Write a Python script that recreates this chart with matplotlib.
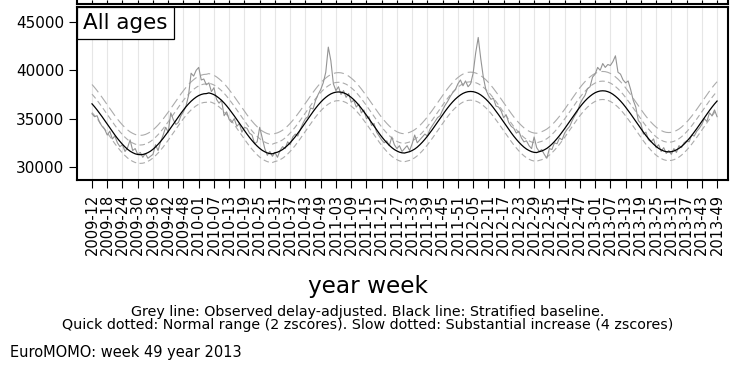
import matplotlib.pyplot as plt
import numpy as np

plt.rcParams["font.family"] = ["DejaVu Sans"]

W, H = 736, 379

# ── data: weekly values from 2009-12 to 2013-49 ──────────────────────────────
tick_labels = [
    "2009-12", "2009-18", "2009-24", "2009-30", "2009-36", "2009-42", "2009-48",
    "2010-01", "2010-07", "2010-13", "2010-19", "2010-25", "2010-31", "2010-37",
    "2010-43", "2010-49", "2011-03", "2011-09", "2011-15", "2011-21", "2011-27",
    "2011-33", "2011-39", "2011-45", "2011-51", "2012-05", "2012-11", "2012-17",
    "2012-23", "2012-29", "2012-35", "2012-41", "2012-47", "2013-01", "2013-07",
    "2013-13", "2013-19", "2013-25", "2013-31", "2013-37", "2013-43", "2013-49",
]

# stratified baseline (black line)
baseline = [
    36530, 36230, 35900, 35550, 35190, 34810, 34430, 34050, 33670, 33310,
    32960, 32640, 32340, 32070, 31830, 31630, 31480, 31360, 31290, 31270,
    31290, 31360, 31480, 31630, 31830, 32070, 32340, 32640, 32960, 33310,
    33670, 34050, 34430, 34810, 35190, 35550, 35900, 36230, 36530, 36800,
    37030, 37230, 37390, 37500, 37570, 37590,
    37660, 37590, 37480, 37320, 37120, 36890, 36620, 36320, 35990, 35640,
    35280, 34900, 34520, 34140, 33760, 33400, 33050, 32730, 32430, 32160,
    31920, 31720, 31570, 31450, 31380, 31360,
    31460, 31530, 31650, 31800, 32000, 32240, 32510, 32810, 33130, 33480,
    33840, 34220, 34600, 34980, 35360, 35720, 36070, 36400, 36700, 36970,
    37200, 37400, 37560, 37670, 37740, 37760,
    37740, 37670, 37560, 37400, 37200, 36970, 36700, 36400, 36070, 35720,
    35360, 34980, 34600, 34220, 33840, 33480, 33130, 32810, 32510, 32240,
    32000, 31800, 31650, 31530, 31460, 31440,
    31510, 31580, 31700, 31850, 32050, 32290, 32560, 32860, 33180, 33530,
    33890, 34270, 34650, 35030, 35410, 35770, 36120, 36450, 36750, 37020,
    37250, 37450, 37610, 37720, 37790, 37810,
    37790, 37720, 37610, 37450, 37250, 37020, 36750, 36450, 36120, 35770,
    35410, 35030, 34650, 34270, 33890, 33530, 33180, 32860, 32560, 32290,
    32050, 31850, 31700, 31580, 31510, 31490,
    31580, 31650, 31770, 31920, 32120, 32360, 32630, 32930, 33250, 33600,
    33960, 34340, 34720, 35100, 35480, 35840, 36190, 36520, 36820, 37090,
    37320, 37520, 37680, 37790, 37860, 37880,
    37860, 37790, 37680, 37520, 37320, 37090, 36820, 36520, 36190, 35840,
    35480, 35100, 34720, 34340, 33960, 33600, 33250, 32930, 32630, 32360,
    32120, 31920, 31770, 31650, 31580, 31560,
    31580, 31650, 31770, 31920, 32120, 32360, 32630, 32930, 33250, 33600,
    33960, 34340, 34720, 35100, 35480, 35840, 36190, 36520, 36820,
]

# observed delay-adjusted deaths (grey line)
observed = [
    35500, 35200, 35300, 34600, 34200, 33900, 33300, 33700, 32900, 33200,
    32500, 32100, 32300, 31600, 32000, 32800, 31700, 31900, 31300, 31500,
    31000, 31400, 30900, 31100, 31300, 32300, 31700, 32600, 33300, 34100,
    33600, 35600, 34900, 34400, 34600, 35300, 35700, 36300, 37400, 39700,
    39400, 40000, 40300, 39000, 39100, 38500,
    38700, 37800, 38200, 37000, 36600, 36900, 35300, 35700, 34900, 34600,
    35000, 34200, 34500, 33600, 34100, 34000, 33500, 33300, 32400, 32600,
    34100, 33000, 31900, 31200, 31600, 31100,
    31500, 31000, 31700, 32100, 31900, 32600, 32300, 33100, 33400, 33200,
    33900, 34500, 35000, 35200, 36100, 36000, 36900, 37500, 38000, 38700,
    39800, 42400, 41000, 38600, 37900, 38300,
    37500, 37900, 37200, 37600, 36700, 36900, 36200, 36500, 35600, 35900,
    35000, 35200, 34300, 34500, 33600, 33200, 32800, 32500, 32700, 32200,
    33100, 32300, 31900, 32200, 31600, 31900,
    32200, 31700, 32400, 33300, 32500, 32800, 33100, 33400, 33200, 33900,
    34300, 34700, 35100, 35300, 35900, 36400, 36800, 37300, 37700, 38000,
    38600, 39000, 38400, 38900, 38300, 38600,
    39700, 41800, 43400, 41200, 39300, 38000, 37400, 37000, 37100, 36300,
    36200, 35800, 35100, 35400, 34600, 34200, 34000, 33500, 33700, 33000,
    32600, 32700, 32200, 31900, 33100, 32000,
    31600, 31800, 31300, 30900, 31900, 31800, 32500, 32400, 33000, 32800,
    33500, 33900, 34200, 34800, 35300, 35700, 36500, 37000, 37400, 38100,
    38300, 39300, 39600, 40300, 40000, 40700,
    40300, 40600, 40500, 40900, 41500, 39800, 39600, 39000, 38700, 38900,
    38000, 36900, 36200, 34800, 34500, 33400, 33600, 32800, 32600, 32900,
    32000, 32300, 31600, 32000, 31400, 31700,
    31300, 31900, 31500, 32200, 32000, 32500, 32700, 32600, 33300, 33200,
    33700, 34000, 34400, 35000, 34700, 35600, 35300, 35900, 35200,
]

# band widths around the baseline
normal_up = 1000        # +2 zscores
normal_down = 900       # -2 zscores
substantial_up = 2000   # +4 zscores

y_ticks = [30000, 35000, 40000, 45000]

# ── figure ───────────────────────────────────────────────────────────────────
fig = plt.figure(figsize=(W / 100, H / 100), dpi=100)
left, right, top, bottom = 77, 728, 7, 180
ax = fig.add_axes([left / W, 1 - bottom / H, (right - left) / W, (bottom - top) / H])

x = np.arange(len(baseline))
base = np.array(baseline)
tick_pos = np.arange(0, len(baseline), 6)

for p in tick_pos:
    ax.axvline(p, color="#e6e6e6", lw=0.8, zorder=0)

grey = "#ababab"
ax.plot(x, base + substantial_up, color=grey, lw=0.8, dashes=(9, 4))
ax.plot(x, base + normal_up, color=grey, lw=0.8, dashes=(5, 3))
ax.plot(x, base - normal_down, color=grey, lw=0.8, dashes=(5, 3))
ax.plot(x, observed, color="#949494", lw=0.8)
ax.plot(x, base, color="black", lw=0.9)

ax.set_xlim(-5.9, 250.3)
ax.set_ylim(28650, 46550)
ax.set_yticks(y_ticks)
ax.set_yticklabels([str(v) for v in y_ticks], fontsize=11)
ax.set_xticks(tick_pos)
ax.set_xticklabels(tick_labels, rotation=90, fontsize=10.5, va="top")
ax.tick_params(axis="y", length=6, width=0.8, pad=3)
ax.tick_params(axis="x", length=6, width=0.8, pad=4)
for s in ax.spines.values():
    s.set_linewidth(1.5)

label_size = 15.5
pad = 0.28
ax.annotate("All ages", xy=(0, 1), xycoords="axes fraction",
            xytext=(pad * label_size, -pad * label_size), textcoords="offset points",
            fontsize=label_size, ha="left", va="top",
            bbox=dict(boxstyle=f"square,pad={pad}", fc="white", ec="black", lw=0.9))

# bottom edge of the panel above, cut off by the page
ax_top = fig.add_axes([left / W, 1 - 4 / H, (right - left) / W, 0.1])
ax_top.set_xlim(ax.get_xlim())
for p in tick_pos:
    ax_top.axvline(p, color="#e6e6e6", lw=0.8, zorder=0)
ax_top.set_xticks(tick_pos)
ax_top.set_xticklabels([])
ax_top.set_yticks([])
ax_top.tick_params(axis="x", length=3, width=0.8, direction="in")
for s in ax_top.spines.values():
    s.set_linewidth(1.5)

fig.text(0.5, 1 - 286 / H, "year week", fontsize=16.7, ha="center", va="center")
fig.text(0.5, 1 - 312 / H,
         "Grey line: Observed delay-adjusted. Black line: Stratified baseline.",
         fontsize=10.3, ha="center", va="center")
fig.text(0.5, 1 - 325 / H,
         "Quick dotted: Normal range (2 zscores). Slow dotted: Substantial increase (4 zscores)",
         fontsize=10.3, ha="center", va="center")
fig.text(10 / W, 1 - 353 / H, "EuroMOMO: week 49 year 2013", fontsize=10.5,
         ha="left", va="center")

fig.savefig("out.png", dpi=100)
